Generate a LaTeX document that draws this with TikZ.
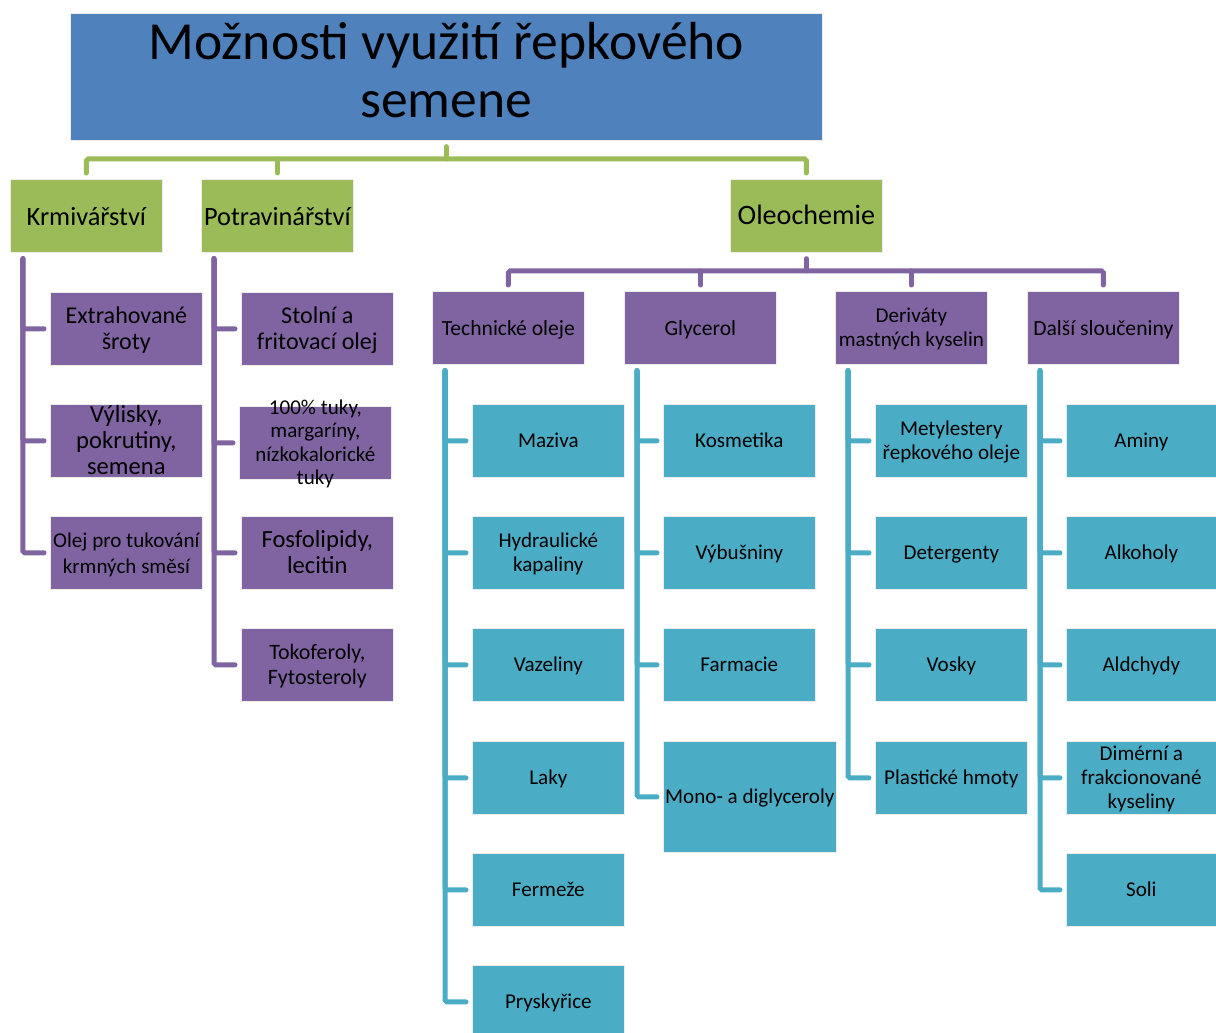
\documentclass[tikz,border=0pt]{standalone}
\usepackage{fontspec}
\setmainfont{Carlito}
\usetikzlibrary{calc}
\definecolor{titleblue}{RGB}{79,129,189}
\definecolor{leafgreen}{RGB}{155,187,89}
\definecolor{plum}{RGB}{128,100,162}
\definecolor{aqua}{RGB}{75,172,198}
% box text keeps the box size fixed, even when it runs over
\newcommand{\bx}[2][-.35em]{\smash{\raisebox{#1}{\begin{tabular}{@{}c@{}}#2\end{tabular}}}}
\newcommand{\fs}[1]{\fontsize{#1}{14.8}\selectfont}
\tikzset{
  box/.style={rectangle,inner sep=0pt,anchor=north west,draw=white!85!gray,line width=0.4pt,
    minimum width=3.04cm,minimum height=1.46cm,text=black,font=\fontsize{12}{14.8}\selectfont},
  headbox/.style={box,fill=leafgreen,font=\fontsize{15}{18}\selectfont},
  catbox/.style={box,fill=plum},
  itembox/.style={box,fill=aqua,font=\fontsize{12}{13.6}\selectfont},
  link/.style={line width=0.1cm,rounded corners=1pt,line cap=round},
}
\begin{document}
\begin{tikzpicture}[x=0.02cm,y=-0.02cm]
  \useasboundingbox (0,0) rectangle (1216,1033);
  % title
  \node[box,fill=titleblue,minimum width=15.04cm,minimum height=2.54cm,
    font=\fontsize{30.5}{33}\selectfont] (title) at (70,13)
    {\bx[-.2em]{Možnosti využití řepkového\\semene}};
  % first level
  \node[headbox] (krm)  at (10,179)  {\bx{Krmivářství}};
  \node[headbox] (potr) at (201,179) {\bx{Potravinářství}};
  \node[headbox,font=\fontsize{16}{19}\selectfont] (oleo) at (730,179) {\bx{Oleochemie}};
  \coordinate (gbus) at (446,159);
  \draw[link,leafgreen] ([yshift=-1.2mm]title.south) -- (title.south |- gbus);
  \draw[link,leafgreen] ([yshift=1.2mm]krm.north) |- (gbus) -| ([yshift=1.2mm]oleo.north);
  \draw[link,leafgreen] ([yshift=1.2mm]potr.north) -- (potr.north |- gbus);
  % Krmivarstvi
  \node[catbox,font=\fs{13.7}] (ext)  at (50,292) {\bx{Extrahované\\šroty}};
  \node[catbox,font=\fs{14}]   (vyl)  at (50,404) {\bx{Výlisky,\\pokrutiny,\\semena}};
  \node[catbox] (olej) at (50,516) {\bx{Olej pro tukování\\krmných směsí}};
  \foreach \c in {ext,vyl,olej}
    \draw[link,plum] ([shift={(0.26cm,-0.12cm)}]krm.south west) |- ([xshift=-1.2mm]\c.west);
  % Potravinarstvi
  \node[catbox,font=\fs{13.7}] (stol) at (241,292) {\bx{Stolní a\\fritovací olej}};
  \node[catbox,font=\fontsize{12}{13.4}\selectfont] (tuky) at (239,406)
    {\bx{100\% tuky,\\margaríny,\\nízkokalorické\\tuky}};
  \node[catbox,font=\fs{14}]   (fosf) at (241,516) {\bx{Fosfolipidy,\\lecitin}};
  \node[catbox,font=\fontsize{12.5}{13.8}\selectfont] (tok) at (241,628) {\bx{Tokoferoly,\\Fytosteroly}};
  \foreach \c in {stol,tuky,fosf,tok}
    \draw[link,plum] ([shift={(0.26cm,-0.12cm)}]potr.south west) |- ([xshift=-1.2mm]\c.west);
  % Oleochemie
  \node[catbox,font=\fontsize{12.3}{14}\selectfont] (tech)  at (432,291)  {\bx{Technické oleje}};
  \node[catbox,font=\fontsize{12.3}{14}\selectfont] (glyc)  at (624,291)  {\bx{Glycerol}};
  \node[catbox,font=\fontsize{12}{13.6}\selectfont] (deriv) at (835,291)
    {\bx{Deriváty\\mastných kyselin}};
  \node[catbox,font=\fontsize{12.3}{14}\selectfont] (dalsi) at (1027,291) {\bx{Další sloučeniny}};
  \coordinate (obus) at (806,271);
  \draw[link,plum] ([yshift=-1.2mm]oleo.south) -- (oleo.south |- obus);
  \draw[link,plum] ([yshift=1.2mm]tech.north) |- (obus) -| ([yshift=1.2mm]dalsi.north);
  \foreach \c in {glyc,deriv}
    \draw[link,plum] ([yshift=1.2mm]\c.north) -- (\c.north |- obus);
  % Technicke oleje
  \node[itembox] (maz)   at (472,404) {\bx{Maziva}};
  \node[itembox] (hydr)  at (472,516) {\bx{Hydraulické\\kapaliny}};
  \node[itembox] (vaz)   at (472,628) {\bx{Vazeliny}};
  \node[itembox] (laky)  at (472,741) {\bx{Laky}};
  \node[itembox] (ferm)  at (472,853) {\bx{Fermeže}};
  \node[itembox] (prysk) at (472,965) {\bx{Pryskyřice}};
  \foreach \c in {maz,hydr,vaz,laky,ferm,prysk}
    \draw[link,aqua] ([shift={(0.26cm,-0.12cm)}]tech.south west) |- ([xshift=-1.2mm]\c.west);
  % Glycerol
  \node[itembox] (kosm) at (663,404) {\bx{Kosmetika}};
  \node[itembox] (vybu) at (663,516) {\bx{Výbušniny}};
  \node[itembox] (farm) at (663,628) {\bx{Farmacie}};
  \node[itembox,minimum width=3.46cm,minimum height=2.22cm] (mono) at (663,741)
    {\bx{Mono- a diglyceroly}};
  \foreach \c in {kosm,vybu,farm,mono}
    \draw[link,aqua] ([shift={(0.26cm,-0.12cm)}]glyc.south west) |- ([xshift=-1.2mm]\c.west);
  % Derivaty mastnych kyselin
  \node[itembox] (metyl)  at (875,404) {\bx{Metylestery\\řepkového oleje}};
  \node[itembox] (deterg) at (875,516) {\bx{Detergenty}};
  \node[itembox] (vosky)  at (875,628) {\bx{Vosky}};
  \node[itembox] (plast)  at (875,741) {\bx{Plastické hmoty}};
  \foreach \c in {metyl,deterg,vosky,plast}
    \draw[link,aqua] ([shift={(0.26cm,-0.12cm)}]deriv.south west) |- ([xshift=-1.2mm]\c.west);
  % Dalsi slouceniny
  \node[itembox,minimum width=3cm] (aminy) at (1066,404) {\bx{Aminy}};
  \node[itembox,minimum width=3cm] (alk)   at (1066,516) {\bx{Alkoholy}};
  \node[itembox,minimum width=3cm] (ald)   at (1066,628) {\bx{Aldchydy}};
  \node[itembox,minimum width=3cm] (dim)   at (1066,741) {\bx{Dimérní a\\frakcionované\\kyseliny}};
  \node[itembox,minimum width=3cm] (soli)  at (1066,853) {\bx{Soli}};
  \foreach \c in {aminy,alk,ald,dim,soli}
    \draw[link,aqua] ([shift={(0.26cm,-0.12cm)}]dalsi.south west) |- ([xshift=-1.2mm]\c.west);
\end{tikzpicture}
\end{document}
